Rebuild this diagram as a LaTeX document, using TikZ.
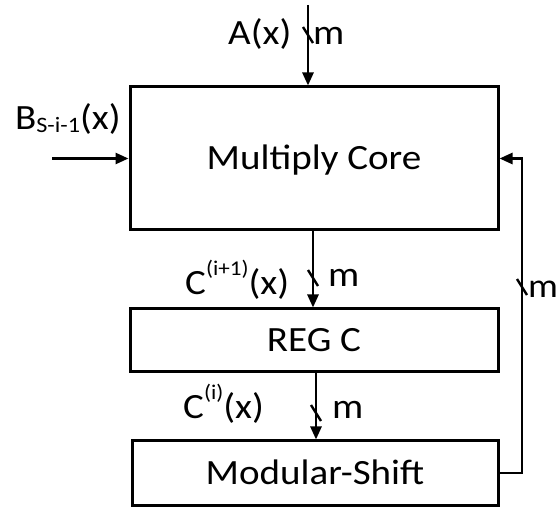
\documentclass[tikz,border=0pt]{standalone}
\usepackage{fontspec}
\setmainfont{Carlito}[FakeStretch=1.1]
\usetikzlibrary{arrows.meta}

% small raised / lowered text for indices
\newcommand{\supidx}[1]{\raisebox{19pt}{\fontsize{21}{21}\selectfont #1}}
\newcommand{\subidx}[1]{\raisebox{-3pt}{\fontsize{22}{22}\selectfont #1}}

\begin{document}
\begin{tikzpicture}[x=1pt, y=-1pt,
  every node/.style={font=\fontsize{35.5}{40}\selectfont, inner sep=0pt},
  blk/.style={draw, line width=3pt, text height=22.4pt, text depth=0pt},
  lbl/.style={anchor=base west},
  arr/.style={line width=2.6pt, -{Triangle[length=13pt,width=11pt]}},
  bus/.style={line width=2.4pt}
]
\useasboundingbox (0,0) rectangle (558,508);

% blocks
\node[blk, minimum width=368pt, minimum height=143pt] (mc)  at (314,158.5) {Multiply Core};
\node[blk, minimum width=368pt, minimum height=63pt]  (reg) at (314,340.5) {REG C};
\node[blk, minimum width=366pt, minimum height=64pt]  (ms)  at (315,473)   {Modular-Shift};

% free ends of the inputs and corner of the feedback loop
\coordinate (ain) at (308,5);
\coordinate (bin) at (52,158.5);
\coordinate (fbk) at (522,473);

% connectors
\draw[arr] (ain) -- (ain |- mc.north);
\draw[arr] (bin) -- (mc.west);
\draw[arr] ([xshift=-1pt]mc.south) -- ([xshift=-1pt]reg.north);
\draw[arr] ([xshift=2pt]reg.south) -- ([xshift=1pt]ms.north);
\draw[arr] (ms.east) -- (fbk) |- (mc.east);

% bus-width marks
\coordinate (sa) at (308,35);
\coordinate (sb) at (313,278);
\coordinate (sc) at (316,413);
\coordinate (sd) at (522,287);
\foreach \c in {sa,sb,sc,sd}
  \draw[bus] (\c) ++(-5,-8) -- ++(10,16);

% labels
\node[lbl] (la)  at (228,45)  {A(x)};
\node[lbl] (ma)  at (313,45)  {m};
\node[lbl] (lb)  at (15,130)  {B\subidx{S-i-1}(x)};
\node[lbl] (lc1) at (185,295) {C\supidx{(i+1)}(x)};
\node[lbl] (mc1) at (328,287) {m};
\node[lbl] (lc0) at (183,418) {C\supidx{(i)}(x)};
\node[lbl] (mc0) at (332,418) {m};
\node[lbl, font=\fontsize{34}{40}\selectfont] (mf) at (528,298) {m};
\end{tikzpicture}
\end{document}
